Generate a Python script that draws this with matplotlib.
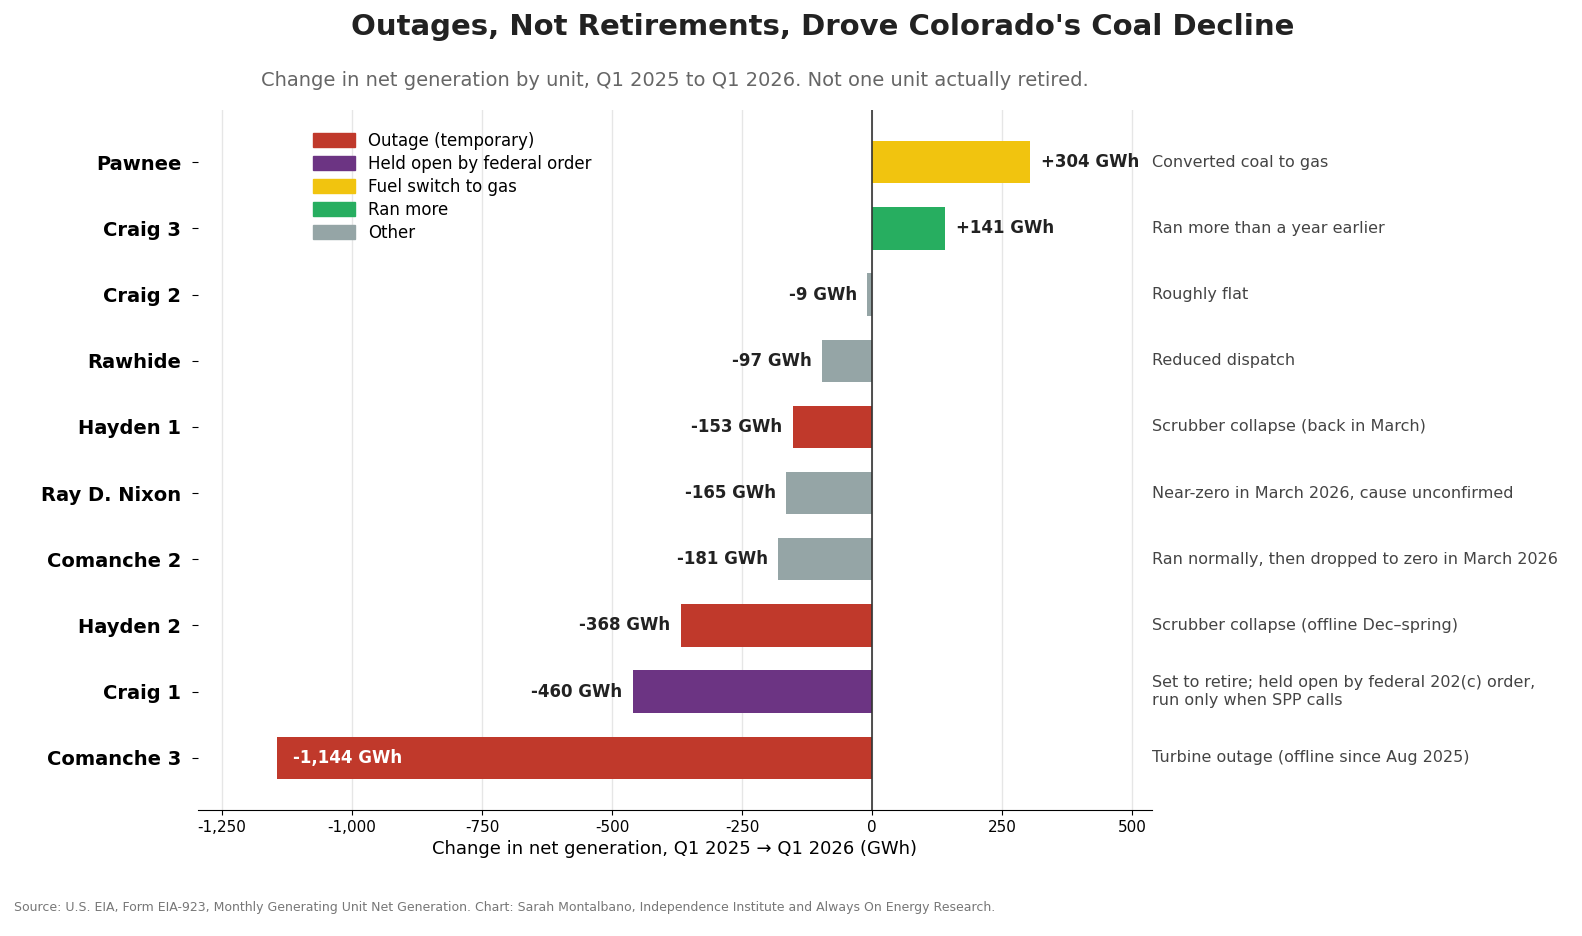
import matplotlib.pyplot as plt
from matplotlib.patches import Patch
from matplotlib.transforms import blended_transform_factory

units = ["Pawnee", "Craig 3", "Craig 2", "Rawhide", "Hayden 1", "Ray D. Nixon",
         "Comanche 2", "Hayden 2", "Craig 1", "Comanche 3"]
changes = [304, 141, -9, -97, -153, -165, -181, -368, -460, -1144]
causes = ["gas", "more", "other", "other", "outage", "other", "other", "outage", "federal", "outage"]
notes = ["Converted coal to gas", "Ran more than a year earlier", "Roughly flat",
         "Reduced dispatch", "Scrubber collapse (back in March)",
         "Near-zero in March 2026, cause unconfirmed",
         "Ran normally, then dropped to zero in March 2026",
         "Scrubber collapse (offline Dec\u2013spring)",
         "Set to retire; held open by federal 202(c) order,\nrun only when SPP calls",
         "Turbine outage (offline since Aug 2025)"]

colors = {"outage": "#c0392b", "federal": "#6c3483", "gas": "#f1c40f",
          "more": "#27ae60", "other": "#95a5a6"}
legend_names = [("outage", "Outage (temporary)"), ("federal", "Held open by federal order"),
                ("gas", "Fuel switch to gas"), ("more", "Ran more"), ("other", "Other")]

fig = plt.figure(figsize=(15.82, 9.36), dpi=100)
ax = fig.add_axes([198/1582, 1-810/936, (1152-198)/1582, (810-110)/936])

y = list(range(len(units)))
ax.barh(y, changes, height=0.64, color=[colors[c] for c in causes], zorder=3)
ax.set_ylim(len(units) - 1 + 0.79, -0.79)
ax.set_xlim(-1296, 538)
ax.set_yticks(y)
ax.set_yticklabels(units, fontsize=14, fontweight="bold")
ax.set_xticks([-1250, -1000, -750, -500, -250, 0, 250, 500])
ax.set_xticklabels(["-1,250", "-1,000", "-750", "-500", "-250", "0", "250", "500"], fontsize=11)
ax.tick_params(axis="y", length=4, pad=8)
ax.grid(axis="x", color="#e6e6e6", linewidth=1, zorder=0)
ax.axvline(0, color="#333333", linewidth=1.2, zorder=4)
for s in ["top", "right", "left"]:
    ax.spines[s].set_visible(False)
ax.set_xlabel("Change in net generation, Q1 2025 \u2192 Q1 2026 (GWh)", fontsize=13)

for yi, v in zip(y, changes):
    lab = f"{v:+,} GWh"
    if v < -1000:
        ax.text(v + 30, yi, lab, ha="left", va="center", color="white",
                fontsize=12, fontweight="bold", zorder=5)
    elif v >= 0:
        ax.text(v + 20, yi, lab, ha="left", va="center", color="#222222",
                fontsize=12, fontweight="bold")
    else:
        ax.text(v - 20, yi, lab, ha="right", va="center", color="#222222",
                fontsize=12, fontweight="bold")

tr = blended_transform_factory(ax.transAxes, ax.transData)
for yi, n in zip(y, notes):
    ax.text(1.0, yi, n, transform=tr, ha="left", va="center", fontsize=11.5, color="#444444")

handles = [Patch(color=colors[k], label=l) for k, l in legend_names]
ax.legend(handles=handles, loc="upper left", bbox_to_anchor=(0.105, 0.99), frameon=False,
          fontsize=12, handlelength=2.5, handleheight=0.9, labelspacing=0.3)

fig.text(823/1582, 1-27/936, "Outages, Not Retirements, Drove Colorado's Coal Decline",
         ha="center", va="center", fontsize=21, fontweight="bold", color="#222222")
fig.text(675/1582, 1-80/936,
         "Change in net generation by unit, Q1 2025 to Q1 2026. Not one unit actually retired.",
         ha="center", va="center", fontsize=14, color="#666666")
fig.text(14/1582, 1-908/936,
         "Source: U.S. EIA, Form EIA-923, Monthly Generating Unit Net Generation. Chart: Sarah Montalbano, Independence Institute and Always On Energy Research.",
         ha="left", va="center", fontsize=9, color="#777777")

fig.savefig("out.png", dpi=100)
